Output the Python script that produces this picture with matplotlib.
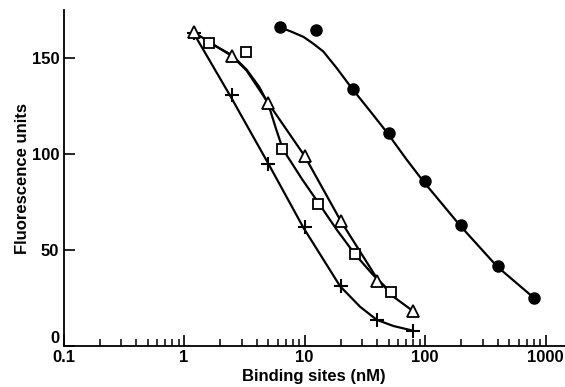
import matplotlib
matplotlib.use('Agg')
import matplotlib.pyplot as plt
from matplotlib.ticker import FixedLocator, FixedFormatter, LogLocator, NullFormatter

plt.rcParams['font.family'] = ['Liberation Sans', 'DejaVu Sans']
plt.rcParams['font.weight'] = 'bold'

# ---- data ----
x_ticks = [0.1, 1, 10, 100, 1000]
x_tick_labels = ['0.1', '1', '10', '100', '1000']
y_ticks = [0, 50, 100, 150]
y_tick_labels = ['0', '50', '100', '150']

circle_x = [6.25, 12.5, 25, 50, 100, 200, 400, 800]
circle_y = [166, 164.5, 134, 111, 86, 63, 41.5, 25]
circle_curve_x = [6.2, 7.6, 9.8, 11.8, 14.3, 18.5, 24.6, 35, 48, 70, 97, 195, 395, 800]
circle_curve_y = [166, 164, 161, 157.5, 153.4, 144.7, 134.3, 122.3, 111.4, 97.2, 85.6, 62.7, 41.4, 25]

plus_x = [1.2, 2.5, 5, 10, 20, 40, 80]
plus_y = [163, 131, 95, 62, 31, 13.5, 8]
plus_curve_x = [1.2, 2.4, 5, 9.8, 13.9, 19.7, 28.9, 39.7, 54.6, 80]
plus_curve_y = [163, 130.6, 95, 61.5, 46.3, 31.1, 20.4, 13.6, 10.4, 7.9]

tri_x = [1.2, 2.5, 5, 10, 20, 40, 80]
tri_y = [163.5, 151, 126.5, 99, 65, 34, 18]
tri_curve_x = [1.2, 2.5, 3.3, 5, 10, 20, 40, 55, 80]
tri_curve_y = [163.5, 151, 143.5, 126.5, 99, 65, 35, 25.5, 18]

sq_x = [1.625, 3.25, 6.5, 13, 26, 52]
sq_y = [158, 153, 102.5, 74, 48, 28]
sq_curve_x = [1.62, 2.5, 3.3, 4.2, 5.0, 5.8, 6.6, 9.5, 13.2, 18.5, 26, 37, 52]
sq_curve_y = [158, 151.5, 144, 135, 126, 113, 102.5, 87, 74, 60.5, 48, 37, 28]

# ---- figure ----
fig = plt.figure(figsize=(5.65, 3.87), dpi=100)
ax = fig.add_axes([0.1124, 0.106, 0.8876, 0.868])
ax.set_xscale('log')
ax.set_xlim(0.1, 1445)
ax.set_ylim(0, 175)

lw = 1.6
for cx, cy in [(circle_curve_x, circle_curve_y), (plus_curve_x, plus_curve_y),
               (tri_curve_x, tri_curve_y), (sq_curve_x, sq_curve_y)]:
    ax.plot(cx, cy, color='black', lw=lw, zorder=2, solid_capstyle='round')

ax.plot(circle_x, circle_y, 'o', ms=8, color='black', zorder=3)
ax.plot(plus_x, plus_y, '+', ms=10, mew=1.5, color='black', zorder=3)
ax.plot(tri_x, tri_y, '^', ms=8.5, mfc='white', mec='black', mew=1.3, zorder=3)
ax.plot(sq_x, sq_y, 's', ms=7.5, mfc='white', mec='black', mew=1.3, zorder=3)

for s in ['top', 'right']:
    ax.spines[s].set_visible(False)
for s in ['left', 'bottom']:
    ax.spines[s].set_linewidth(1.3)

ax.xaxis.set_major_locator(FixedLocator(x_ticks))
ax.xaxis.set_major_formatter(FixedFormatter(x_tick_labels))
ax.xaxis.set_minor_locator(LogLocator(base=10, subs=[2, 3, 4, 5, 6, 7, 8, 9]))
ax.xaxis.set_minor_formatter(NullFormatter())
ax.yaxis.set_major_locator(FixedLocator(y_ticks))
ax.yaxis.set_major_formatter(FixedFormatter(y_tick_labels))

ax.tick_params(axis='x', which='major', direction='in', length=8, width=1.2, pad=3, labelsize=12)
ax.tick_params(axis='x', which='minor', direction='in', length=5, width=1.1)
ax.tick_params(axis='y', which='major', direction='in', length=8, width=1.2, pad=3, labelsize=12)

fig.canvas.draw()
ylabels = ax.get_yticklabels()
ylabels[0].set_va('bottom')

ax.set_xlabel('Binding sites (nM)', fontsize=12, fontweight='bold', labelpad=3)
ax.set_ylabel('Fluorescence units', fontsize=12, fontweight='bold', labelpad=1)

fig.savefig('out.png', dpi=100)
